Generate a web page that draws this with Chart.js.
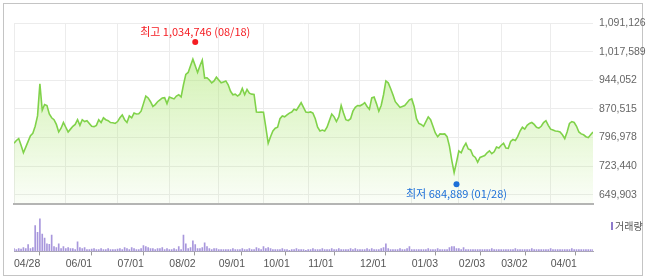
<!DOCTYPE html>
<html>
<head>
<meta charset="utf-8">
<script src="https://cdn.jsdelivr.net/npm/chart.js@4.4.1/dist/chart.umd.min.js"></script>
<style>
    html, body { margin: 0; padding: 0; background: #fff; }
    #wrap { position: relative; width: 650px; height: 278px; }
    #frame { position: absolute; left: 3px; top: 3px; width: 638px; height: 271px; border: 1px solid #c4c4c4; }
    #priceCanvas { position: absolute; left: 0; top: 0; }
    #volCanvas { position: absolute; left: 0; top: 214px; }
</style>
</head>
<body>
<div id="wrap">
    <div id="frame"></div>
    <canvas id="priceCanvas" width="650" height="216"></canvas>
    <canvas id="volCanvas" width="650" height="64"></canvas>
</div>
<script>
// trading day index (0 = 04/28) of each x tick
const tickDays = [0, 22, 44, 66, 87, 106, 125, 147, 169, 189, 207, 228];
const tickDates = ['04/28', '06/01', '07/01', '08/02', '09/01', '10/01', '11/01', '12/01', '01/03', '02/03', '03/02', '04/01'];
const priceTicks = [649903, 723440, 796978, 870515, 944052, 1017589, 1091126];

// high / low markers
const extremeNames = ['최고', '최저'];
const extremeDays = [77, 188];
const extremeDates = ['08/18', '01/28'];
const extremeValues = [1034746, 684889];

// daily closes, one per trading day
const closes = [
    782200, 789500, 794300, 777300, 757900, 772500, 787000, 801600, 807700, 825900,
    852600, 935100, 867100, 881700, 879300, 857400, 847700, 842800, 830700, 811300,
    821000, 835600, 823400, 811300, 818600, 825900, 830700, 842800, 828300, 842800,
    838000, 840400, 833100, 825900, 825000, 828300, 842800, 835600, 847700, 842800,
    840400, 835600, 834900, 833100, 838000, 847700, 855000, 842800, 835600, 852600,
    847700, 859800, 857400, 858200, 864700, 884100, 903500, 898700, 889000, 876800,
    881700, 889000, 893800, 898700, 899500, 884100, 901100, 898700, 896200, 903500,
    906900, 901100, 932600, 959300, 964200, 981200, 998200, 981200, 964200, 981200,
    995700, 949600, 950500, 944800, 937500, 942400, 952100, 944800, 937500, 939900,
    942400, 932600, 915700, 906900, 908400, 903500, 908400, 922900, 906900, 920500,
    910800, 908400, 907600, 862300, 861800, 862300, 862000, 823400, 782200, 799200,
    813700, 821000, 823400, 845300, 852600, 850100, 855000, 859800, 862300, 869500,
    867100, 876800, 886500, 874400, 862300, 861500, 862800, 859800, 845300, 823400,
    813700, 816100, 813700, 823400, 840400, 857400, 850100, 838000, 850100, 879300,
    859800, 842800, 840400, 845300, 864700, 874400, 879300, 878500, 881700, 886500,
    876800, 869500, 898700, 901100, 884100, 864700, 879300, 906900, 942400, 937500,
    922900, 906900, 889000, 881700, 874400, 876800, 879300, 886500, 893800, 896200,
    876800, 845300, 833100, 830700, 825900, 838000, 850100, 842800, 825900, 808900,
    799200, 806400, 805700, 806400, 799200, 774900, 738500, 706900, 733600, 762800,
    757900, 772500, 782200, 767600, 765200, 750600, 745800, 733600, 745800, 748200,
    750600, 757900, 762800, 755500, 760300, 772500, 770000, 777300, 782200, 770000,
    769200, 787000, 791900, 789500, 799200, 813700, 823400, 818600, 828300, 833100,
    835600, 830700, 823400, 821000, 825900, 835600, 840400, 828300, 818600, 816100,
    813700, 813000, 811300, 804000, 794300, 811300, 833100, 838000, 835600, 825900,
    811300, 806400, 804000, 799200, 796700, 804000, 811300
];

// daily volume (thousand shares)
const volumes = [
    30, 20, 30, 25, 40, 30, 70, 30, 40, 270,
    200, 340, 180, 140, 80, 75, 170, 50, 40, 80,
    30, 50, 30, 40, 30, 30, 20, 100, 40, 30,
    40, 20, 20, 25, 30, 20, 20, 30, 20, 20,
    30, 20, 20, 20, 25, 30, 20, 40, 30, 20,
    40, 30, 20, 20, 30, 60, 50, 40, 30, 30,
    20, 30, 30, 40, 20, 30, 20, 20, 30, 20,
    50, 20, 170, 80, 30, 40, 110, 70, 30, 30,
    40, 90, 50, 30, 20, 30, 30, 20, 20, 20,
    20, 20, 20, 30, 20, 20, 20, 30, 20, 20,
    30, 20, 20, 40, 30, 20, 50, 30, 40, 30,
    20, 20, 20, 20, 30, 20, 20, 10, 20, 20,
    30, 20, 20, 20, 10, 20, 20, 30, 20, 20,
    20, 30, 20, 20, 20, 30, 20, 20, 30, 20,
    20, 20, 20, 30, 20, 30, 20, 20, 20, 20,
    30, 20, 30, 20, 20, 20, 30, 40, 80, 30,
    20, 20, 20, 20, 30, 20, 20, 30, 50, 20,
    20, 20, 20, 20, 20, 20, 30, 20, 20, 20,
    30, 20, 20, 20, 20, 40, 50, 50, 30, 30,
    20, 40, 20, 20, 20, 20, 20, 20, 20, 20,
    20, 20, 20, 30, 20, 20, 20, 20, 20, 20,
    20, 20, 20, 30, 20, 20, 20, 20, 20, 20,
    30, 20, 20, 20, 20, 20, 20, 20, 30, 20,
    20, 20, 20, 20, 20, 20, 20, 30, 20, 20,
    20, 20, 20, 20, 20, 20, 20
];

const FONT = 'Liberation Sans, Arial, sans-serif';
const lastDay = closes.length - 1;
const fmt = v => v.toLocaleString('en-US');

const extremePlugin = {
    id: 'extremes',
    afterDatasetsDraw(chart) {
        const { ctx, scales: { x, y } } = chart;
        extremeValues.forEach((v, k) => {
            const up = k === 0;
            const px = x.getPixelForValue(extremeDays[k]);
            const py = y.getPixelForValue(v) + (up ? -3 : 3);
            ctx.save();
            ctx.fillStyle = up ? '#f51c22' : '#1c6fd8';
            ctx.beginPath();
            ctx.arc(px, py, 3, 0, Math.PI * 2);
            ctx.fill();
            ctx.font = '11px "Noto Sans CJK KR", sans-serif';
            ctx.textAlign = 'center';
            ctx.textBaseline = 'middle';
            ctx.fillText(`${extremeNames[k]} ${fmt(v)} (${extremeDates[k]})`, px, py + (up ? -10 : 10));
            ctx.restore();
        });
    }
};

const volLegend = {
    id: 'volLegend',
    afterDraw(chart) {
        const { ctx, chartArea } = chart;
        const lx = chartArea.right + 18;
        const ly = chartArea.top + 10;
        ctx.save();
        ctx.fillStyle = '#8e7bcc';
        ctx.fillRect(lx, ly - 4, 2, 8);
        ctx.fillStyle = '#555';
        ctx.font = '10px "Noto Sans CJK KR", sans-serif';
        ctx.textBaseline = 'middle';
        ctx.fillText('거래량', lx + 4, ly);
        ctx.restore();
    }
};

new Chart(document.getElementById('priceCanvas'), {
    type: 'line',
    data: {
        datasets: [{
            data: closes.map((v, i) => ({ x: i, y: v })),
            borderColor: '#80d24a',
            borderWidth: 1.6,
            pointRadius: 0,
            tension: 0,
            fill: 'start',
            backgroundColor: (c) => {
                const a = c.chart.chartArea;
                if (!a) return 'rgba(170,230,110,0.3)';
                const g = c.chart.ctx.createLinearGradient(0, a.top, 0, a.bottom);
                g.addColorStop(0, 'rgba(170,230,110,0.62)');
                g.addColorStop(1, 'rgba(170,230,110,0.05)');
                return g;
            }
        }]
    },
    options: {
        responsive: false,
        animation: false,
        layout: { padding: { left: 14, top: 23, bottom: 3, right: 0 } },
        plugins: { legend: { display: false }, tooltip: { enabled: false } },
        scales: {
            x: {
                type: 'linear',
                min: 0,
                max: lastDay,
                afterBuildTicks: axis => { axis.ticks = tickDays.map(v => ({ value: v })); },
                ticks: { display: false },
                grid: { color: '#ececec', drawTicks: false },
                border: { display: true, color: '#b4b4b4', width: 2 }
            },
            y: {
                position: 'right',
                min: 627100,
                max: 1091126,
                afterBuildTicks: axis => { axis.ticks = priceTicks.map(v => ({ value: v })); },
                afterFit: axis => { axis.width = 57; },
                ticks: {
                    color: '#666',
                    padding: 6,
                    font: { family: FONT, size: 10.5 },
                    callback: v => fmt(v)
                },
                grid: { color: '#ececec', drawTicks: false },
                border: { display: false }
            }
        }
    },
    plugins: [extremePlugin]
});

new Chart(document.getElementById('volCanvas'), {
    type: 'bar',
    data: {
        datasets: [{
            data: volumes.map((v, i) => ({ x: i, y: v })),
            backgroundColor: '#a897dc',
            barThickness: 1,
            borderWidth: 0
        }]
    },
    options: {
        responsive: false,
        animation: false,
        layout: { padding: { left: 14, top: 2, bottom: 6, right: 57 } },
        plugins: { legend: { display: false }, tooltip: { enabled: false } },
        scales: {
            x: {
                type: 'linear',
                min: 0,
                max: lastDay,
                offset: false,
                afterBuildTicks: axis => { axis.ticks = tickDays.map(v => ({ value: v })); },
                ticks: {
                    align: 'start',
                    maxRotation: 0,
                    autoSkip: false,
                    color: '#555',
                    padding: 2,
                    font: { family: FONT, size: 10.5 },
                    callback: v => tickDates[tickDays.indexOf(v)]
                },
                grid: { drawOnChartArea: false, drawTicks: true, tickLength: 4, color: '#999' },
                border: { display: true, color: '#aaa', width: 1 }
            },
            y: {
                display: false,
                min: 0,
                max: 370
            }
        }
    },
    plugins: [volLegend]
});
</script>
</body>
</html>
